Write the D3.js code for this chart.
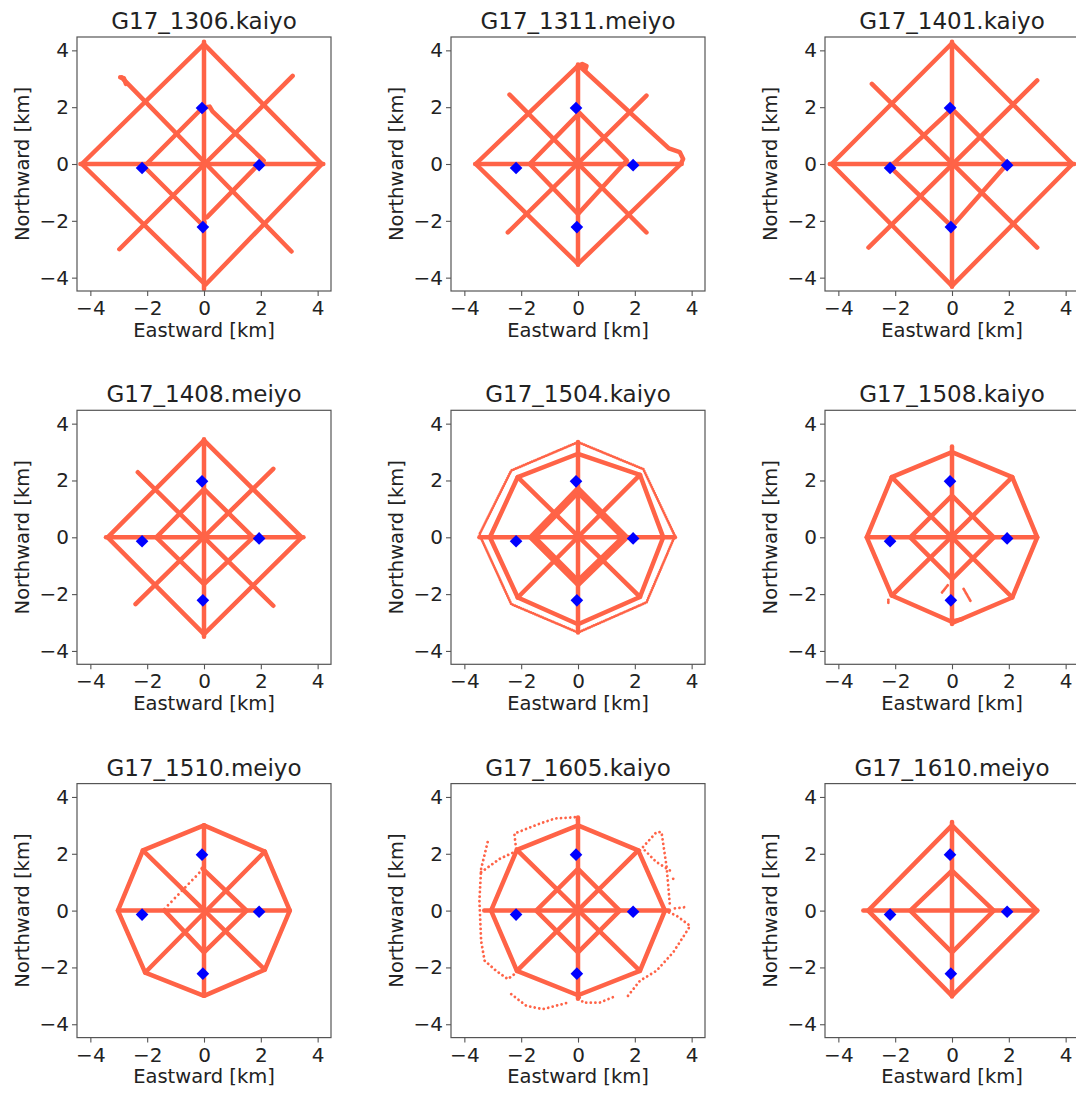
<!DOCTYPE html>
<html>
<head>
<meta charset="utf-8">
<script src="https://cdn.jsdelivr.net/npm/d3@7"></script>
<style>
body { margin: 0; background: #fff; }
svg { display: block; font-family: "DejaVu Sans", sans-serif; }
</style>
</head>
<body>
<svg id="chart" width="1076" height="1093"></svg>
<script>
// ship tracks around site G17, km from the array centre
var panelTitles = [
    "G17_1306.kaiyo", "G17_1311.meiyo", "G17_1401.kaiyo",
    "G17_1408.meiyo", "G17_1504.kaiyo", "G17_1508.kaiyo",
    "G17_1510.meiyo", "G17_1605.kaiyo", "G17_1610.meiyo"
];
var tickValues = [-4, -2, 0, 2, 4];
var axisDomain = [-4.47, 4.47];

// seafloor transponders
var transponderEast = [-0.07, -2.18, 1.94, -0.04];
var transponderNorth = [1.97, -0.14, -0.04, -2.22];

var track1306 = [
    [[0, 4.22], [4.15, 0], [0.05, -4.25], [-4.3, 0], [0, 4.22]],
    [[0, 4.3], [0, -4.4]],
    [[-4.35, 0], [4.2, 0]],
    [[-2.9, 3.05], [3.08, -3.08]],
    [[-2.98, -3.0], [3.12, 3.1]],
    [[-2.1, -0.08], [-0.05, 1.98], [0.2, 2.02], [0.3, 1.85],
        [2.1, 0.12], [1.95, 0.02], [0.1, -1.88]],
    [[-2.05, -0.15], [0, -2.2], [0.02, -2.05]],
    [[-2.95, 3.05], [-2.82, 3.02], [-2.75, 2.82]]
];
var track1311 = [
    [[0.05, 3.45], [3.2, 0.55], [3.58, 0.42], [3.7, 0.18], [3.62, 0],
        [0, -3.52], [-3.6, 0], [0, 3.45]],
    [[0, 3.45], [0.15, 3.52], [0.3, 3.45], [0.25, 3.3]],
    [[0, 3.5], [0, -3.55]],
    [[-3.62, 0], [3.65, 0]],
    [[-2.41, 2.44], [2.41, -2.41]],
    [[-2.47, -2.41], [2.41, 2.41]],
    [[-1.7, 0], [0.05, 1.8], [1.72, 0.12], [0, -1.76], [-1.7, 0]]
];
var track1401 = [
    [[0, 4.25], [4.24, 0], [0, -4.29], [-4.24, 0], [0, 4.25]],
    [[0, 4.3], [0, -4.32]],
    [[-4.3, 0], [4.3, 0]],
    [[-2.82, 2.82], [3.0, -2.94]],
    [[-2.94, -2.94], [3.0, 2.94]],
    [[-2.18, -0.1], [0, 1.94], [1.94, 0], [0, -2.2], [-2.18, -0.1]]
];
var track1408 = [
    [[0, 3.41], [3.44, 0], [0, -3.41], [-3.39, 0], [0, 3.41]],
    [[0, 3.45], [0, -3.5]],
    [[-3.45, 0], [3.5, 0]],
    [[-2.33, 2.29], [2.44, -2.41]],
    [[-2.41, -2.35], [2.44, 2.41]],
    [[-1.68, 0], [0, 1.7], [1.73, 0], [0, -1.65], [-1.68, 0]]
];
var track1504 = [
    [[0, 2.94], [2.18, 2.2], [3.0, 0], [2.18, -2.1], [0, -3.06],
        [-2.12, -2.12], [-3.1, 0], [-2.12, 2.12], [0, 2.94]],
    [[0, 3.35], [0, -3.35]],
    [[-3.47, 0], [3.41, 0]],
    [[-2.12, 2.12], [2.18, -2.1]],
    [[-2.12, -2.12], [2.18, 2.2]],
    [[-1.52, 0], [0, 1.57], [1.57, 0], [0, -1.52], [-1.52, 0]],
    [[-1.6, 0], [0, 1.65], [1.65, 0], [0, -1.6], [-1.6, 0]],
    [[-1.68, 0], [0, 1.73], [1.73, 0], [0, -1.68], [-1.68, 0]]
];
var sparse1504 = [
    [[0, 3.35], [2.3, 2.4], [3.41, 0.05], [2.41, -2.29], [0, -3.35],
        [-2.35, -2.35], [-3.47, 0.1], [-2.35, 2.35], [0, 3.35]]
];
var track1508 = [
    [[0, 3.0], [2.12, 2.12], [3.0, 0], [2.12, -2.12], [0.05, -3.0],
        [-2.12, -2.05], [-3.0, 0], [-2.12, 2.12], [0, 3.0]],
    [[0, 3.2], [0, -3.05]],
    [[-3.0, 0], [3.0, 0]],
    [[-2.12, 2.12], [2.12, -2.12]],
    [[-2.12, -2.05], [2.12, 2.12]],
    [[-1.47, 0], [0, 1.47], [1.47, 0], [0, -1.47], [-1.47, 0]],
    [[0.05, -2.95], [0.35, -2.88]]
];
var sparse1508 = [
    [[-0.35, -1.94], [-0.12, -1.65]],
    [[0.41, -1.82], [0.65, -2.24]],
    [[-2.24, -2.2], [-2.24, -2.32]]
];
var track1510 = [
    [[0, 3.0], [2.14, 2.08], [3.02, 0], [2.14, -2.08], [0, -3.0],
        [-2.07, -2.18], [-3.03, 0], [-2.15, 2.12], [0, 3.0]],
    [[0, 3.0], [0, -3.0]],
    [[-3.03, 0], [3.02, 0]],
    [[-2.15, 2.12], [2.14, -2.08]],
    [[-2.07, -2.18], [2.14, 2.08]],
    [[-0.05, 1.48], [1.5, 0], [0, -1.47], [-1.39, 0]]
];
var sparse1510 = [
    [[-1.39, 0.06], [-0.09, 1.41]]
];
var track1605 = [
    [[0, 3.0], [2.12, 2.12], [3.06, 0], [2.18, -2.12], [0, -2.98],
        [-2.15, -2.12], [-3.06, 0], [-2.15, 2.14], [0, 3.0]],
    [[0, 3.28], [0, -3.1]],
    [[-3.3, 0], [3.2, 0]],
    [[-2.15, 2.14], [2.18, -2.12]],
    [[-2.15, -2.12], [2.12, 2.12]],
    [[-1.47, 0], [0, 1.47], [1.47, 0], [0, -1.47], [-1.47, 0]]
];
var sparse1605 = [
    [[-2.18, 2.18], [-2.24, 2.71], [-1.35, 3.06], [-0.82, 3.24],
        [-0.06, 3.29], [0, 3.06]],
    [[-3.18, 2.41], [-3.41, 1.47], [-3.47, 0.35], [-3.41, -1.06],
        [-3.29, -1.76], [-2.88, -2.12], [-2.47, -2.41], [-2.24, -2.24]],
    [[-3.41, 1.35], [-2.76, 1.82], [-2.12, 2.12]],
    [[-2.35, -2.94], [-1.82, -3.35], [-1.24, -3.47], [-0.35, -3.24]],
    [[0.06, -3.06], [0.18, -3.24], [0.76, -3.24], [1.35, -3.0]],
    [[1.76, -3.0], [2.18, -2.47], [2.76, -2.12], [3.35, -1.47],
        [3.88, -0.65], [3.94, -0.53], [3.47, -0.18], [3.18, -0.06]],
    [[2.18, 2.12], [2.76, 2.76], [2.94, 2.76], [3.12, 1.53], [3.24, 0.12]],
    [[2.35, 2.12], [2.76, 1.71], [3.24, 1.41]],
    [[3.35, 1.12], [3.36, 1.12]],
    [[3.41, 0.08], [3.76, 0.12]]
];
var track1610 = [
    [[0, 3.0], [3.0, 0], [0, -3.0], [-2.95, 0], [0, 3.0]],
    [[0, 3.12], [0, -3.02]],
    [[-3.12, 0], [3.0, 0]],
    [[-1.47, 0], [0, 1.41], [1.47, 0], [0, -1.47], [-1.47, 0]]
];

var panelTracks = [
    track1306, track1311, track1401, track1408, track1504,
    track1508, track1510, track1605, track1610
];
var panelSparse = [
    [], [], [], [], sparse1504, sparse1508, sparse1510, sparse1605, []
];

// layout
var size = 254; // px, square frame
var frameLeft = 77;
var frameTop = 37;
var colStep = 374;
var rowStep = 373.3;
var sparseGap = [0, 0, 0, 0, 2.2, 1.5, 5, 4.6, 0];
var trackColor = "#ff6347";
var inkColor = "#222";
var spineColor = "#555";

var svg = d3.select("#chart");

var x = d3.scaleLinear().domain(axisDomain).range([0, size]);
var y = d3.scaleLinear().domain(axisDomain).range([size, 0]);

var line = d3.line()
    .x(function (d) {
        return x(d[0]);
    })
    .y(function (d) {
        return y(d[1]);
    });

svg.append("defs").append("clipPath")
    .attr("id", "frame")
    .append("rect")
    .attr("width", size)
    .attr("height", size);

var marker = d3.symbol().type(d3.symbolSquare).size(80);

var styleAxis = function (g) {
    g.select(".domain").remove();
    g.selectAll(".tick line").attr("stroke", spineColor)
        .attr("stroke-width", 1.1);
    g.selectAll(".tick text")
        .attr("fill", inkColor)
        .attr("font-size", 20)
        .attr("font-family", "DejaVu Sans, sans-serif");
};

panelTitles.forEach(function (title, i) {
    var left = frameLeft + (i % 3) * colStep;
    var top = frameTop + Math.floor(i / 3) * rowStep;
    var g = svg.append("g")
        .attr("transform", "translate(" + left + "," + top + ")");

    var plot = g.append("g").attr("clip-path", "url(#frame)");

    plot.selectAll("path.track")
        .data(panelTracks[i])
        .join("path")
        .attr("class", "track")
        .attr("d", line)
        .attr("fill", "none")
        .attr("stroke", trackColor)
        .attr("stroke-width", 4.5)
        .attr("stroke-linecap", "round")
        .attr("stroke-linejoin", "round");

    plot.selectAll("path.sparse")
        .data(panelSparse[i])
        .join("path")
        .attr("class", "sparse")
        .attr("d", line)
        .attr("fill", "none")
        .attr("stroke", trackColor)
        .attr("stroke-width", 2.8)
        .attr("stroke-linecap", "round")
        .attr("stroke-dasharray", "0.01 " + sparseGap[i]);

    plot.selectAll("path.site")
        .data(transponderEast)
        .join("path")
        .attr("class", "site")
        .attr("d", marker)
        .attr("transform", function (d, j) {
            return "translate(" + x(d) + "," + y(transponderNorth[j]) +
                    ") rotate(45)";
        })
        .attr("fill", "#0000ff");

    g.append("rect")
        .attr("width", size)
        .attr("height", size)
        .attr("fill", "none")
        .attr("stroke", spineColor)
        .attr("stroke-width", 1.2);

    g.append("g")
        .attr("transform", "translate(0," + size + ")")
        .call(d3.axisBottom(x).tickValues(tickValues)
            .tickSize(5).tickSizeOuter(0).tickPadding(5))
        .call(styleAxis);

    g.append("g")
        .call(d3.axisLeft(y).tickValues(tickValues)
            .tickSize(5).tickSizeOuter(0).tickPadding(3))
        .call(styleAxis);

    g.append("text")
        .attr("x", size / 2)
        .attr("y", -8)
        .attr("text-anchor", "middle")
        .attr("font-size", 23)
        .attr("fill", inkColor)
        .text(title);

    g.append("text")
        .attr("x", size / 2)
        .attr("y", size + 39)
        .attr("dy", "0.35em")
        .attr("text-anchor", "middle")
        .attr("font-size", 19.5)
        .attr("fill", inkColor)
        .text("Eastward [km]");

    g.append("text")
        .attr("transform", "translate(-55," + (size / 2) + ") rotate(-90)")
        .attr("dy", "0.35em")
        .attr("text-anchor", "middle")
        .attr("font-size", 19.5)
        .attr("fill", inkColor)
        .text("Northward [km]");
});
</script>
</body>
</html>
